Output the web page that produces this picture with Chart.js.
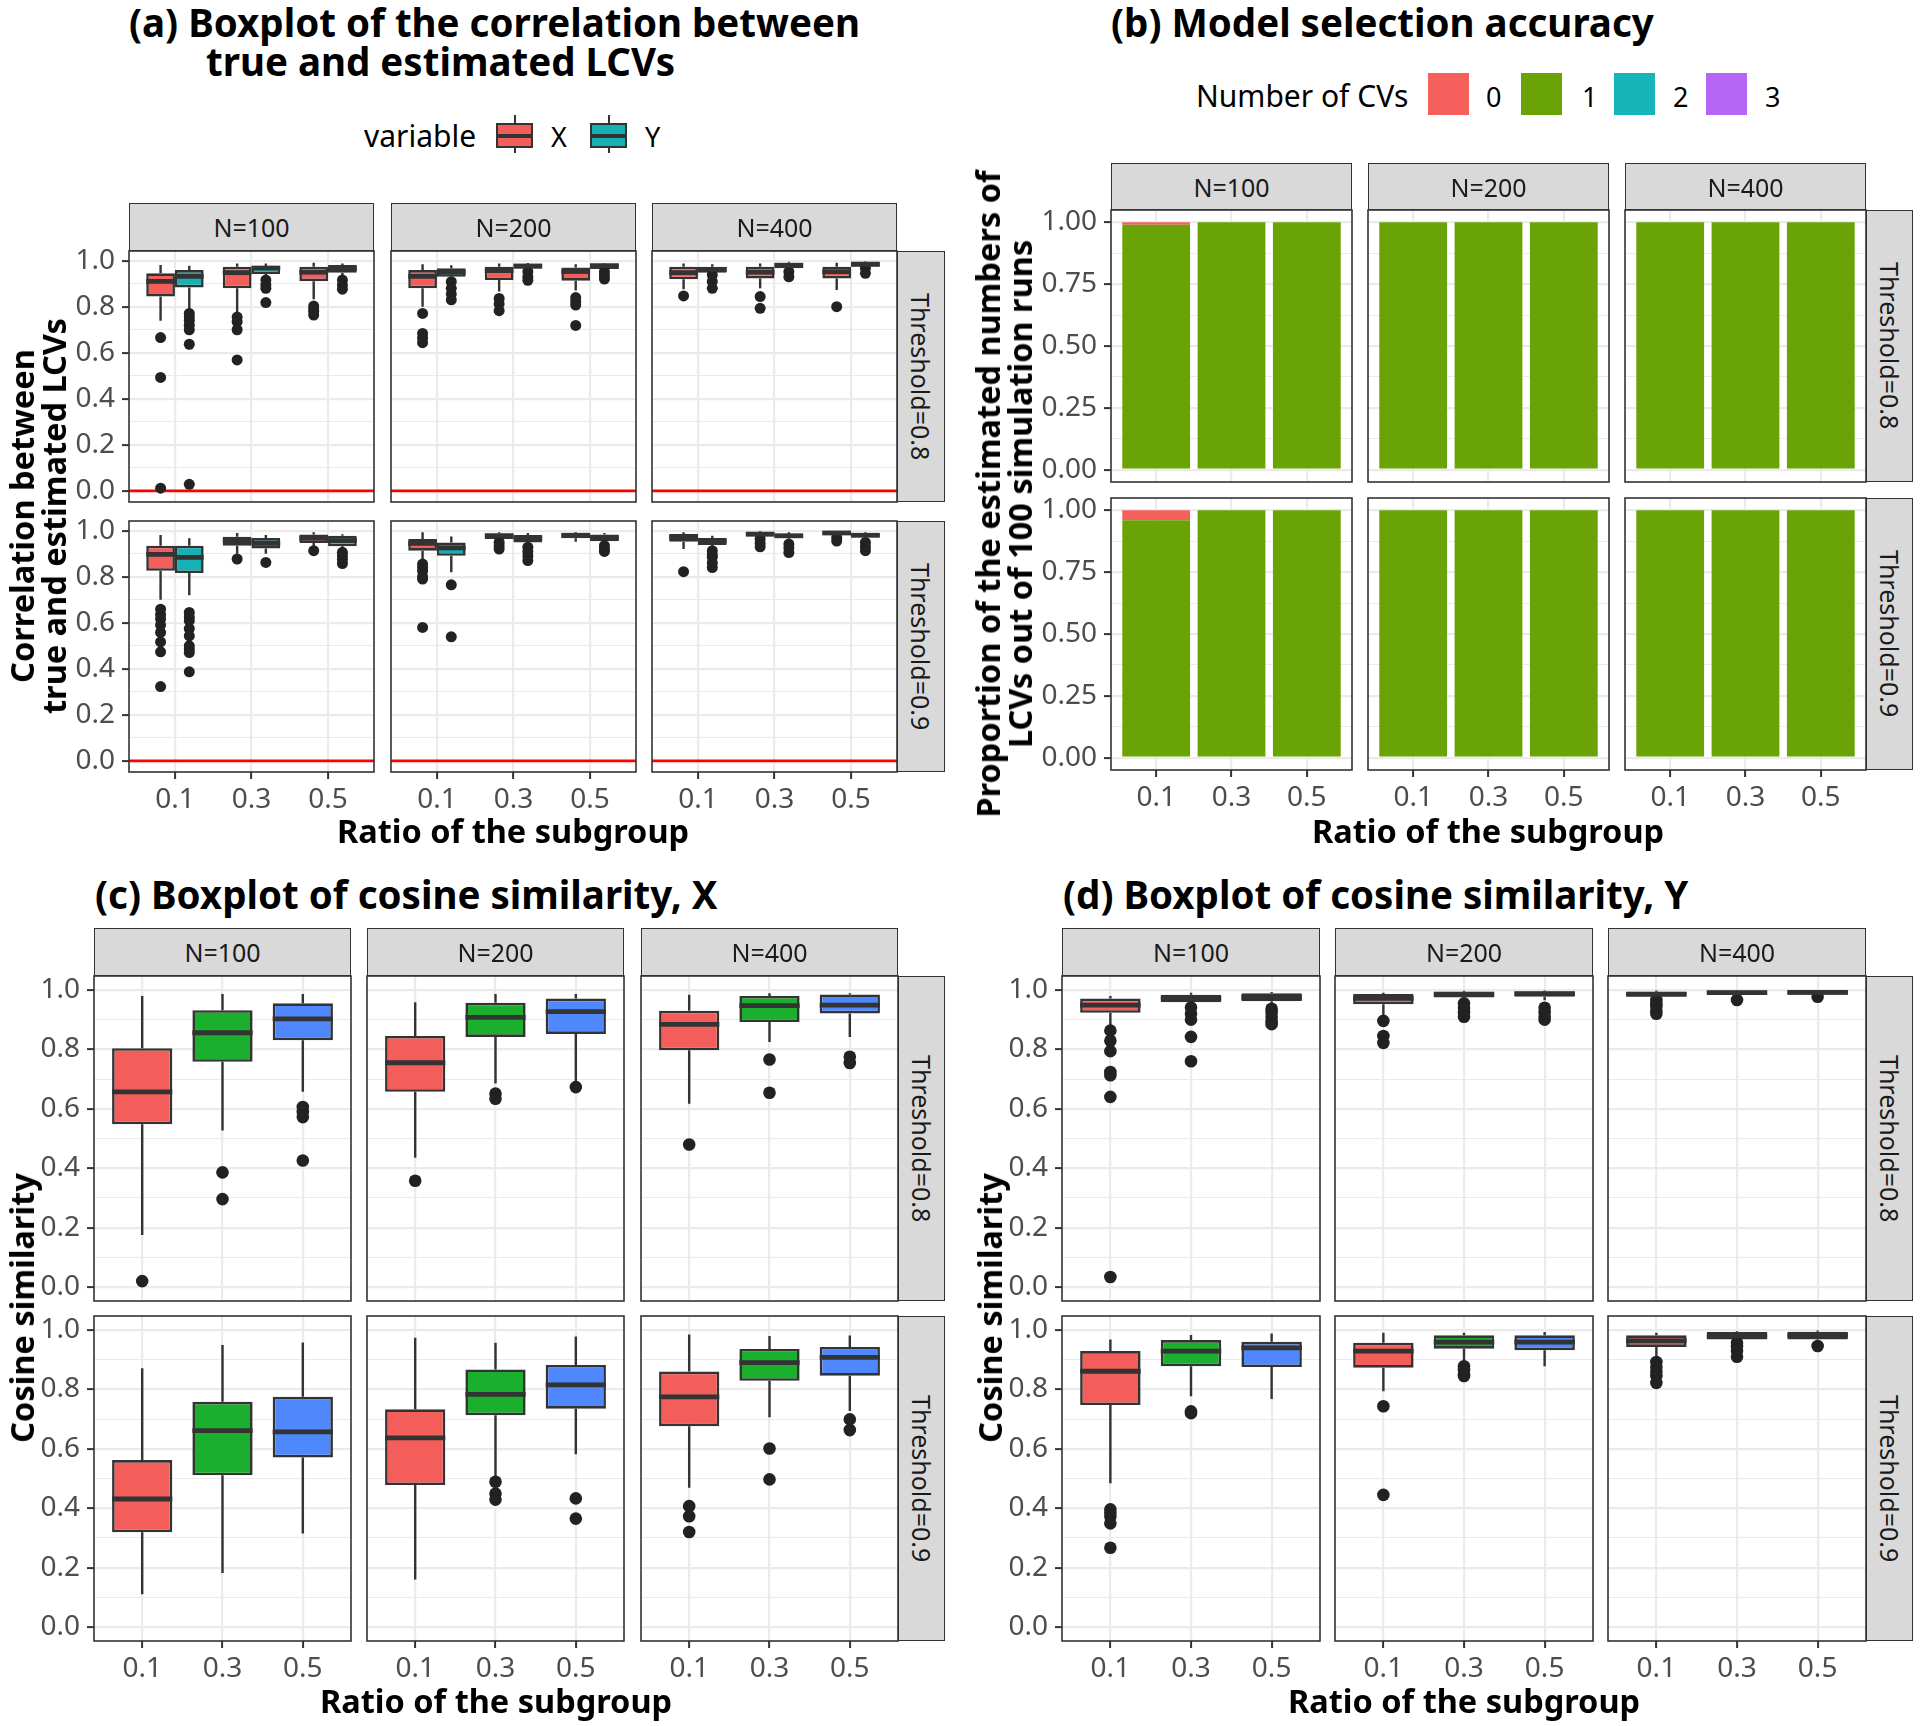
<!DOCTYPE html>
<html>
<head>
<meta charset="utf-8">
<title>Simulation results</title>
<script src="https://cdn.jsdelivr.net/npm/chart.js@4.4.1/dist/chart.umd.min.js"></script>
<style>
  body { margin: 0; width: 1920px; height: 1726px; background: #fff; position: relative; overflow: hidden; font-family: "Noto Sans", sans-serif; }
  canvas { position: absolute; }
  .txt { position: absolute; white-space: pre; line-height: 1; transform: translate(0, -50%); }
  .mid { transform: translate(-50%, -50%); text-align: center; }
  .rot { transform: translate(-50%, -50%) rotate(-90deg); text-align: center; }
  .title { font-size: 38.5px; font-weight: bold; color: #000; }
  .axis { font-size: 32.5px; font-weight: bold; color: #000; line-height: 32px; }
  .strip { position: absolute; box-sizing: border-box; background: #d9d9d9; border: 1.6px solid #333; display: flex; align-items: center; justify-content: center; font-size: 25px; color: #1a1a1a; }
  .side { writing-mode: vertical-rl; }
  .leg { font-size: 30px; color: #000; }
  .legsm { font-size: 27px; color: #000; }
  .key { position: absolute; box-sizing: border-box; }
</style>
</head>
<body>
<script>
// categories
const ratioLabels = ['0.1', '0.3', '0.5'];
const ratioPos = [1, 2, 3];
const sizeLabels = ['N=100', 'N=200', 'N=400'];
const thresholdLabels = ['Threshold=0.8', 'Threshold=0.9'];
const cvLabels = ['0', '1', '2', '3'];

// tick marks of the y axes
const unitTicks = [0, 0.2, 0.4, 0.6, 0.8, 1.0];
const unitTickLabels = ['0.0', '0.2', '0.4', '0.6', '0.8', '1.0'];
const unitMinor = [0.1, 0.3, 0.5, 0.7, 0.9];
const propTicks = [0, 0.25, 0.5, 0.75, 1];
const propTickLabels = ['0.00', '0.25', '0.50', '0.75', '1.00'];
const propMinor = [0.125, 0.375, 0.625, 0.875];
const refLine = 0; // red line of panel (a)

// box stats: [whisker low, q1, median, q3, whisker high], one row per N, one box per ratio
// (a) correlation between true and estimated LCVs
const corrX_t08 = [
  [[0.739, 0.844, 0.910, 0.945, 0.981], [0.764, 0.880, 0.948, 0.974, 0.988], [0.832, 0.911, 0.950, 0.974, 0.991]],
  [[0.800, 0.880, 0.932, 0.959, 0.985], [0.866, 0.916, 0.957, 0.974, 0.988], [0.870, 0.913, 0.953, 0.970, 0.985]],
  [[0.876, 0.919, 0.948, 0.974, 0.988], [0.880, 0.923, 0.950, 0.974, 0.988], [0.873, 0.923, 0.952, 0.974, 0.991]]
];
const corrY_t08 = [
  [[0.786, 0.884, 0.932, 0.959, 0.978], [0.928, 0.942, 0.968, 0.977, 0.988], [0.935, 0.948, 0.965, 0.981, 0.988]],
  [[0.916, 0.930, 0.950, 0.967, 0.980], [0.955, 0.965, 0.977, 0.986, 0.990], [0.955, 0.964, 0.978, 0.988, 0.990]],
  [[0.940, 0.948, 0.962, 0.974, 0.985], [0.960, 0.967, 0.980, 0.991, 0.995], [0.970, 0.974, 0.985, 0.993, 0.996]]
];
const corrXOut_t08 = [
  [[0.666, 0.493, 0.012], [0.755, 0.735, 0.700, 0.569], [0.803, 0.790, 0.779, 0.764]],
  [[0.771, 0.684, 0.664, 0.644], [0.836, 0.812, 0.783], [0.840, 0.823, 0.807, 0.719]],
  [[0.847], [0.844, 0.793], [0.800]]
];
const corrYOut_t08 = [
  [[0.771, 0.755, 0.740, 0.720, 0.700, 0.637, 0.029], [0.916, 0.895, 0.880, 0.818], [0.916, 0.894, 0.876]],
  [[0.909, 0.880, 0.855, 0.830], [0.952, 0.930, 0.915], [0.952, 0.935, 0.920]],
  [[0.938, 0.910, 0.880], [0.952, 0.930], [0.967, 0.945]]
];
const corrX_t09 = [
  [[0.700, 0.826, 0.897, 0.935, 0.981], [0.900, 0.935, 0.957, 0.974, 0.990], [0.930, 0.946, 0.967, 0.983, 0.993]],
  [[0.870, 0.913, 0.945, 0.964, 0.993], [0.955, 0.964, 0.978, 0.988, 0.993], [0.952, 0.967, 0.980, 0.988, 0.993]],
  [[0.920, 0.952, 0.971, 0.986, 0.993], [0.970, 0.975, 0.985, 0.993, 0.997], [0.975, 0.981, 0.990, 0.996, 0.998]]
];
const corrY_t09 = [
  [[0.720, 0.816, 0.884, 0.935, 0.967], [0.900, 0.923, 0.945, 0.968, 0.981], [0.915, 0.932, 0.957, 0.978, 0.985]],
  [[0.819, 0.891, 0.925, 0.949, 0.975], [0.940, 0.949, 0.967, 0.981, 0.990], [0.945, 0.954, 0.970, 0.983, 0.990]],
  [[0.925, 0.938, 0.955, 0.968, 0.978], [0.955, 0.967, 0.978, 0.986, 0.993], [0.960, 0.971, 0.980, 0.986, 0.993]]
];
const corrXOut_t09 = [
  [[0.659, 0.636, 0.616, 0.590, 0.558, 0.517, 0.474, 0.323], [0.877], [0.913]],
  [[0.855, 0.840, 0.825, 0.800, 0.790, 0.580], [0.950, 0.935, 0.920], []],
  [[0.822], [0.964, 0.945, 0.930], [0.970, 0.955]]
];
const corrYOut_t09 = [
  [[0.645, 0.625, 0.609, 0.575, 0.543, 0.500, 0.486, 0.471, 0.387], [0.862], [0.906, 0.890, 0.875, 0.857]],
  [[0.765, 0.539], [0.928, 0.910, 0.890, 0.870], [0.935, 0.920, 0.910]],
  [[0.913, 0.895, 0.885, 0.860, 0.840], [0.942, 0.925, 0.905], [0.949, 0.930, 0.913]]
];

// (b) proportion of runs selecting 0..3 CVs
const cv0_t08 = [[0.01, 0, 0], [0, 0, 0], [0, 0, 0]];
const cv1_t08 = [[0.99, 1, 1], [1, 1, 1], [1, 1, 1]];
const cv2_t08 = [[0, 0, 0], [0, 0, 0], [0, 0, 0]];
const cv3_t08 = [[0, 0, 0], [0, 0, 0], [0, 0, 0]];
const cv0_t09 = [[0.04, 0, 0], [0, 0, 0], [0, 0, 0]];
const cv1_t09 = [[0.96, 1, 1], [1, 1, 1], [1, 1, 1]];
const cv2_t09 = [[0, 0, 0], [0, 0, 0], [0, 0, 0]];
const cv3_t09 = [[0, 0, 0], [0, 0, 0], [0, 0, 0]];

// (c) cosine similarity, X
const cosX_t08 = [
  [[0.175, 0.548, 0.657, 0.804, 0.980], [0.527, 0.758, 0.856, 0.932, 0.986], [0.657, 0.831, 0.903, 0.955, 0.986]],
  [[0.435, 0.657, 0.755, 0.845, 0.959], [0.685, 0.842, 0.908, 0.957, 0.986], [0.688, 0.852, 0.927, 0.971, 0.986]],
  [[0.617, 0.797, 0.884, 0.930, 0.984], [0.825, 0.892, 0.947, 0.980, 0.989], [0.842, 0.921, 0.949, 0.985, 0.989]]
];
const cosXOut_t08 = [
  [[0.020], [0.386, 0.296], [0.606, 0.589, 0.572, 0.426]],
  [[0.358], [0.651, 0.634], [0.673]],
  [[0.480], [0.766, 0.654], [0.775, 0.754]]
];
const cosX_t09 = [
  [[0.110, 0.319, 0.431, 0.562, 0.871], [0.182, 0.511, 0.661, 0.758, 0.949], [0.315, 0.571, 0.657, 0.775, 0.958]],
  [[0.160, 0.478, 0.637, 0.733, 0.974], [0.506, 0.713, 0.783, 0.867, 0.957], [0.582, 0.735, 0.815, 0.882, 0.978]],
  [[0.469, 0.676, 0.775, 0.860, 0.985], [0.706, 0.829, 0.890, 0.936, 0.980], [0.727, 0.846, 0.908, 0.943, 0.981]]
];
const cosXOut_t09 = [
  [[], [], []],
  [[], [0.489, 0.449, 0.429], [0.433, 0.365]],
  [[0.407, 0.373, 0.320], [0.601, 0.497], [0.699, 0.663]]
];

// (d) cosine similarity, Y
const cosY_t08 = [
  [[0.878, 0.923, 0.949, 0.971, 0.980], [0.949, 0.959, 0.972, 0.984, 0.991], [0.955, 0.962, 0.975, 0.989, 0.993]],
  [[0.910, 0.952, 0.972, 0.986, 0.991], [0.965, 0.975, 0.986, 0.994, 0.997], [0.965, 0.977, 0.988, 0.995, 0.998]],
  [[0.970, 0.977, 0.986, 0.994, 0.998], [0.975, 0.983, 0.991, 0.998, 1.000], [0.980, 0.984, 0.992, 0.998, 1.000]]
];
const cosYOut_t08 = [
  [[0.863, 0.829, 0.794, 0.724, 0.713, 0.640, 0.034], [0.941, 0.920, 0.900, 0.842, 0.760], [0.937, 0.925, 0.910, 0.895, 0.885]],
  [[0.896, 0.845, 0.822], [0.955, 0.940, 0.925, 0.910], [0.940, 0.925, 0.910, 0.900]],
  [[0.966, 0.955, 0.945, 0.930, 0.920], [0.966], [0.977]]
];
const cosY_t09 = [
  [[0.484, 0.747, 0.861, 0.929, 0.968], [0.777, 0.878, 0.929, 0.966, 0.983], [0.768, 0.875, 0.940, 0.960, 0.988]],
  [[0.794, 0.873, 0.929, 0.957, 0.991], [0.890, 0.937, 0.959, 0.982, 0.991], [0.878, 0.932, 0.959, 0.982, 0.993]],
  [[0.900, 0.943, 0.963, 0.982, 0.991], [0.960, 0.968, 0.980, 0.993, 0.996], [0.955, 0.968, 0.982, 0.994, 0.998]]
];
const cosYOut_t09 = [
  [[0.396, 0.385, 0.372, 0.349, 0.267], [0.726, 0.720], []],
  [[0.743, 0.445], [0.878, 0.865, 0.850, 0.845], []],
  [[0.892, 0.875, 0.860, 0.845, 0.822], [0.957, 0.945, 0.930, 0.910], [0.946]]
];

// colours
const redFill = '#f35e5b';
const cyanFill = '#17b1b5';
const boxFills = ['#f35e5b', '#1aaf2d', '#4f87fd'];
const cvFills = ['#f5605d', '#6aa305', '#17b5b9', '#b566f7'];
const gridCol = '#ebebeb';
const tickFont = { family: 'Noto Sans', size: 28 };

// panel placement (pixels)
const layA = { cols: [129, 391, 652], w: 245, rows: [251, 521], h: 251, stripTop: 203, stripH: 48, sideX: 897, sideW: 48 };
const layB = { cols: [1111, 1368, 1625], w: 241, rows: [210, 498], h: 272, stripTop: 163, stripH: 47, sideX: 1866, sideW: 47 };
const layC = { cols: [94, 367, 641], w: 257, rows: [976, 1316], h: 325, stripTop: 928, stripH: 48, sideX: 898, sideW: 47 };
const layD = { cols: [1062, 1335, 1608], w: 258, rows: [976, 1316], h: 325, stripTop: 928, stripH: 48, sideX: 1866, sideW: 47 };
const P = 4, YW = 80, XH = 60;

// whiskers, medians, reference line and panel border
const facetDecor = {
  id: 'facetDecor',
  beforeDatasetsDraw(chart, args, opts) {
    const { ctx, chartArea: a, scales: { y } } = chart;
    ctx.save();
    if (typeof opts.refLine === 'number') {
      const py = y.getPixelForValue(opts.refLine);
      ctx.strokeStyle = '#ff0000';
      ctx.lineWidth = 2.8;
      ctx.beginPath(); ctx.moveTo(a.left, py); ctx.lineTo(a.right, py); ctx.stroke();
    }
    ctx.strokeStyle = '#333';
    ctx.lineWidth = 2.4;
    chart.data.datasets.forEach((ds, i) => {
      if (!ds.stats) return;
      chart.getDatasetMeta(i).data.forEach((bar, j) => {
        const s = ds.stats[j];
        ctx.beginPath();
        ctx.moveTo(bar.x, y.getPixelForValue(s[4])); ctx.lineTo(bar.x, y.getPixelForValue(s[3]));
        ctx.moveTo(bar.x, y.getPixelForValue(s[1])); ctx.lineTo(bar.x, y.getPixelForValue(s[0]));
        ctx.stroke();
      });
    });
    ctx.restore();
  },
  afterDatasetsDraw(chart) {
    const { ctx, scales: { y } } = chart;
    ctx.save();
    ctx.strokeStyle = '#333';
    ctx.lineWidth = 4.8;
    chart.data.datasets.forEach((ds, i) => {
      if (!ds.stats) return;
      chart.getDatasetMeta(i).data.forEach((bar, j) => {
        const py = y.getPixelForValue(ds.stats[j][2]);
        ctx.beginPath(); ctx.moveTo(bar.x - bar.width / 2, py); ctx.lineTo(bar.x + bar.width / 2, py); ctx.stroke();
      });
    });
    ctx.restore();
  },
  afterDraw(chart) {
    const { ctx, chartArea: a } = chart;
    ctx.save();
    ctx.strokeStyle = '#333';
    ctx.lineWidth = 1.6;
    ctx.strokeRect(a.left, a.top, a.right - a.left, a.bottom - a.top);
    ctx.restore();
  }
};

function boxSet(stats, fill) {
  return {
    type: 'bar', stats: stats,
    data: stats.map((s, j) => ({ x: ratioPos[j], y: [s[1], s[3]] })),
    backgroundColor: fill, borderColor: '#333', borderWidth: 2.6, borderSkipped: false,
    categoryPercentage: 0.75, barPercentage: 1, order: 2
  };
}

function outSet(outs, shift, radius) {
  const pts = [];
  outs.forEach((list, j) => list.forEach(v => pts.push({ x: ratioPos[j] + shift, y: v })));
  return { type: 'scatter', data: pts, pointRadius: radius, pointBackgroundColor: '#222', pointBorderWidth: 0, order: 1 };
}

function cvSet(vals, fill) {
  return {
    type: 'bar', data: vals.map((v, j) => ({ x: ratioPos[j], y: v })),
    backgroundColor: fill, borderWidth: 0, categoryPercentage: 0.9, barPercentage: 1
  };
}

function facet(L, col, row, cfg) {
  const lw = col === 0 ? YW : P;
  const bh = row === 1 ? XH : P;
  const cv = document.createElement('canvas');
  cv.width = lw + L.w + P;
  cv.height = P + L.h + bh;
  cv.style.left = (L.cols[col] - lw) + 'px';
  cv.style.top = (L.rows[row] - P) + 'px';
  document.body.appendChild(cv);
  const isMajor = v => cfg.ticks.indexOf(v) >= 0;
  new Chart(cv, {
    type: 'bar',
    data: { datasets: cfg.datasets },
    options: {
      animation: false, responsive: false, events: [],
      layout: { autoPadding: false, padding: { top: P, right: P, left: 0, bottom: 0 } },
      plugins: { legend: { display: false }, tooltip: { enabled: false }, facetDecor: { refLine: cfg.refLine } },
      scales: {
        x: {
          type: 'linear', min: 0.4, max: 3.6, stacked: !!cfg.stacked, offset: false,
          afterBuildTicks: s => { s.ticks = ratioPos.map(v => ({ value: v })); },
          afterFit: s => { s.height = bh; s.paddingLeft = 0; s.paddingRight = 0; },
          border: { display: false },
          grid: { offset: false, color: gridCol, lineWidth: 2.2, drawTicks: row === 1, tickLength: 7, tickColor: '#333', tickWidth: 2 },
          ticks: { display: row === 1, autoSkip: false, maxRotation: 0, padding: 4, color: '#4d4d4d', font: tickFont,
            callback: v => ratioLabels[ratioPos.indexOf(v)] }
        },
        y: {
          type: 'linear', min: cfg.yMin, max: cfg.yMax, stacked: !!cfg.stacked,
          afterBuildTicks: s => { s.ticks = cfg.ticks.concat(cfg.minor).map(v => ({ value: v })); },
          afterFit: s => { s.width = lw; s.paddingTop = 0; s.paddingBottom = 0; },
          border: { display: false },
          grid: {
            color: gridCol, drawTicks: col === 0, tickLength: 7, tickWidth: 2,
            lineWidth: c => (c.tick && isMajor(c.tick.value)) ? 2.2 : 1.1,
            tickColor: c => (c.tick && isMajor(c.tick.value)) ? '#333' : 'rgba(0,0,0,0)'
          },
          ticks: { display: col === 0, autoSkip: false, padding: 7, color: '#4d4d4d', font: tickFont,
            callback: v => isMajor(v) ? cfg.labels[cfg.ticks.indexOf(v)] : '' }
        }
      }
    },
    plugins: [facetDecor]
  });
}

function addText(txt, x, y, cls) {
  const d = document.createElement('div');
  d.className = 'txt ' + cls;
  d.textContent = txt;
  d.style.left = x + 'px';
  d.style.top = y + 'px';
  document.body.appendChild(d);
  return d;
}

function addBox(cls, x, y, w, h, css) {
  const d = document.createElement('div');
  d.className = cls;
  d.style.cssText = `left:${x}px;top:${y}px;width:${w}px;height:${h}px;` + (css || '');
  document.body.appendChild(d);
  return d;
}

function strips(L) {
  L.cols.forEach((x, i) => {
    addBox('strip', x, L.stripTop, L.w, L.stripH).textContent = sizeLabels[i];
  });
  L.rows.forEach((y, i) => {
    addBox('strip side', L.sideX, y, L.sideW, L.h).textContent = thresholdLabels[i];
  });
}

// (a)
for (let r = 0; r < 2; r++) {
  for (let n = 0; n < 3; n++) {
    facet(layA, n, r, {
      yMin: -0.048, yMax: 1.042, ticks: unitTicks, labels: unitTickLabels, minor: unitMinor, refLine: refLine,
      datasets: [
        boxSet([corrX_t08, corrX_t09][r][n], redFill),
        boxSet([corrY_t08, corrY_t09][r][n], cyanFill),
        outSet([corrXOut_t08, corrXOut_t09][r][n], -0.1875, 5.5),
        outSet([corrYOut_t08, corrYOut_t09][r][n], 0.1875, 5.5)
      ]
    });
  }
}
// (b)
for (let r = 0; r < 2; r++) {
  for (let n = 0; n < 3; n++) {
    facet(layB, n, r, {
      yMin: -0.05, yMax: 1.05, ticks: propTicks, labels: propTickLabels, minor: propMinor, stacked: true,
      datasets: [
        cvSet([cv3_t08, cv3_t09][r][n], cvFills[3]),
        cvSet([cv2_t08, cv2_t09][r][n], cvFills[2]),
        cvSet([cv1_t08, cv1_t09][r][n], cvFills[1]),
        cvSet([cv0_t08, cv0_t09][r][n], cvFills[0])
      ]
    });
  }
}
// (c) and (d)
for (let r = 0; r < 2; r++) {
  for (let n = 0; n < 3; n++) {
    facet(layC, n, r, {
      yMin: -0.047, yMax: 1.047, ticks: unitTicks, labels: unitTickLabels, minor: unitMinor,
      datasets: [boxSet([cosX_t08, cosX_t09][r][n], boxFills), outSet([cosXOut_t08, cosXOut_t09][r][n], 0, 6.3)]
    });
    facet(layD, n, r, {
      yMin: -0.047, yMax: 1.047, ticks: unitTicks, labels: unitTickLabels, minor: unitMinor,
      datasets: [boxSet([cosY_t08, cosY_t09][r][n], boxFills), outSet([cosYOut_t08, cosYOut_t09][r][n], 0, 6.3)]
    });
  }
}
[layA, layB, layC, layD].forEach(strips);

// titles
addText('(a) Boxplot of the correlation between', 129, 22, 'title');
addText('true and estimated LCVs', 206, 61, 'title');
addText('(b) Model selection accuracy', 1111, 22, 'title');
addText('(c) Boxplot of cosine similarity, X', 95, 894, 'title');
addText('(d) Boxplot of cosine similarity, Y', 1063, 894, 'title');

// axis titles
addText('Ratio of the subgroup', 513, 831, 'axis mid');
addText('Ratio of the subgroup', 1488, 831, 'axis mid');
addText('Ratio of the subgroup', 496, 1701, 'axis mid');
addText('Ratio of the subgroup', 1464, 1701, 'axis mid');
addText('Correlation between\ntrue and estimated LCVs', 38, 516, 'axis rot');
addText('Proportion of the estimated numbers of\nLCVs out of 100 simulation runs', 1004, 494, 'axis rot');
addText('Cosine similarity', 22, 1308, 'axis rot');
addText('Cosine similarity', 990, 1308, 'axis rot');

// legend (a)
addText('variable', 364, 136, 'leg');
[[496, redFill, 'X', 551], [590, cyanFill, 'Y', 645]].forEach(k => {
  addBox('key', k[0] + 17.5, 115, 2, 38, 'background:#333;');
  addBox('key', k[0], 123, 37, 25, `background:${k[1]};border:2px solid #333;`);
  addBox('key', k[0], 133.5, 37, 4, 'background:#333;');
  addText(k[2], k[3], 136, 'legsm');
});
// legend (b)
addText('Number of CVs', 1196, 96, 'leg');
const keyX = [1428, 1521, 1614, 1706];
const keyLabelX = [1486, 1582, 1673, 1765];
cvLabels.forEach((lab, i) => {
  addBox('key', keyX[i], 73, 41, 42, `background:${cvFills[i]};`);
  addText(lab, keyLabelX[i], 96, 'legsm');
});
</script>
</body>
</html>
